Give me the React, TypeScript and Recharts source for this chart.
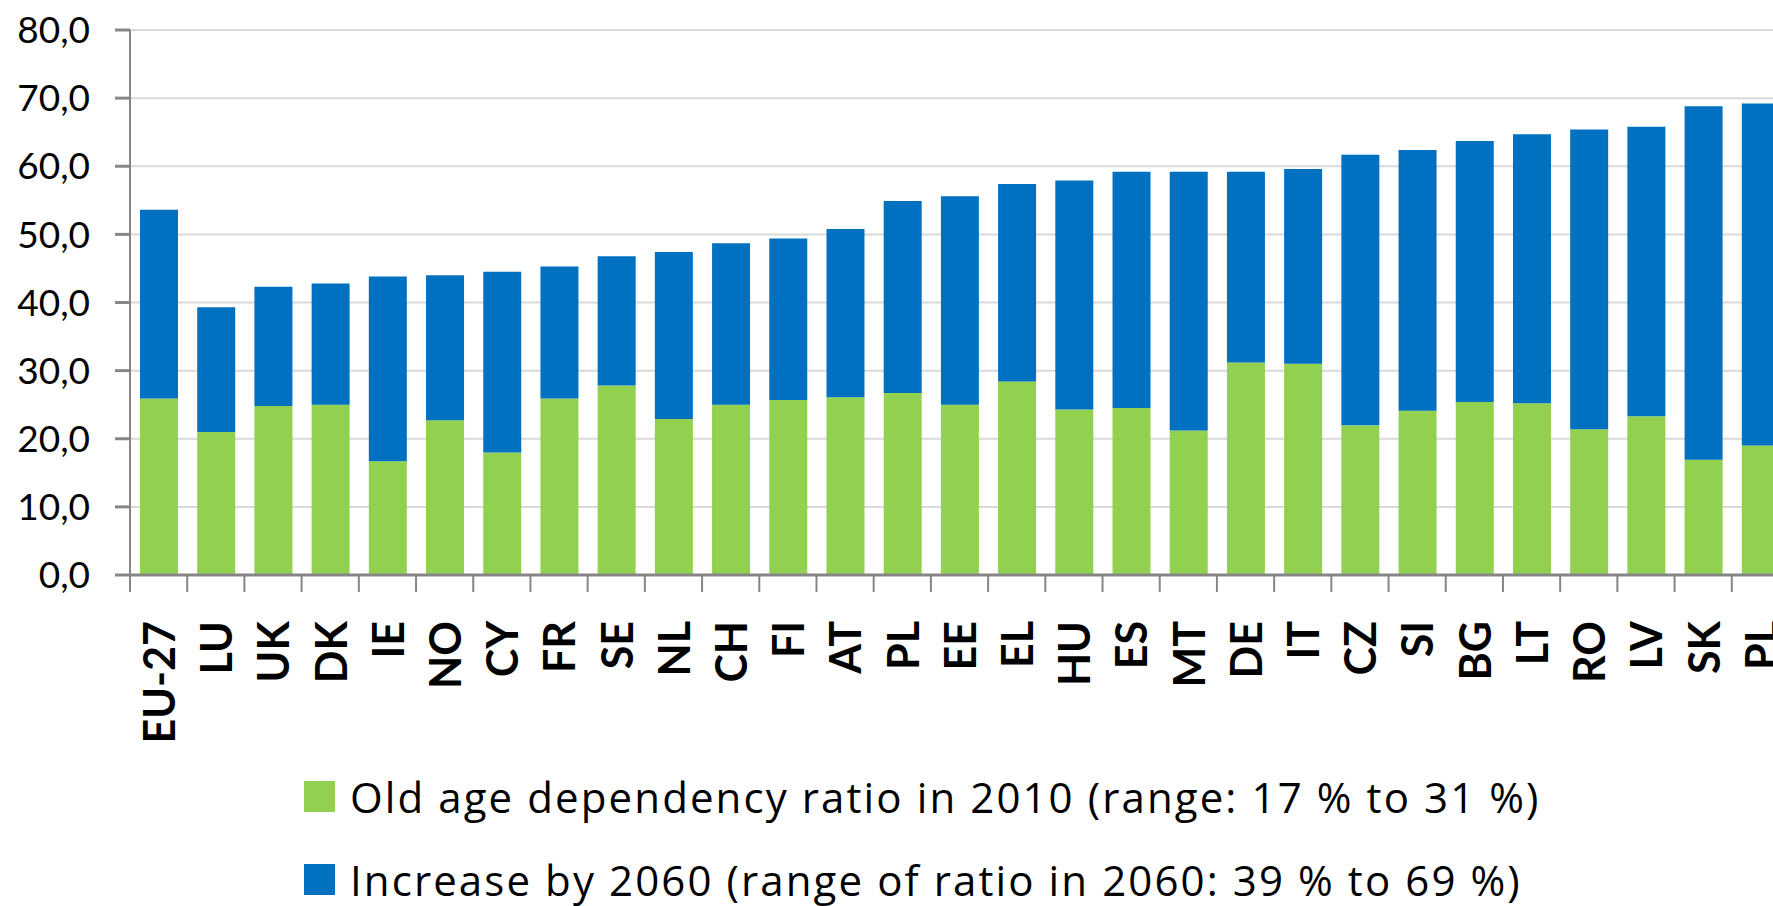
import { BarChart, Bar, XAxis, YAxis, CartesianGrid, Legend } from "recharts";

const countries = [
  "EU-27", "LU", "UK", "DK", "IE", "NO", "CY", "FR", "SE", "NL",
  "CH", "FI", "AT", "PL", "EE", "EL", "HU", "ES", "MT", "DE",
  "IT", "CZ", "SI", "BG", "LT", "RO", "LV", "SK", "PL",
];

const ratio2010 = [
  25.9, 21.0, 24.8, 25.0, 16.7, 22.7, 18.0, 25.9, 27.8, 22.9,
  25.0, 25.7, 26.1, 26.7, 25.0, 28.4, 24.3, 24.5, 21.2, 31.2,
  31.0, 22.0, 24.1, 25.4, 25.2, 21.4, 23.3, 16.9, 19.0,
];

const increase2060 = [
  27.7, 18.3, 17.5, 17.8, 27.1, 21.3, 26.5, 19.4, 19.0, 24.5,
  23.7, 23.7, 24.7, 28.2, 30.6, 29.0, 33.6, 34.7, 38.0, 28.0,
  28.6, 39.7, 38.3, 38.3, 39.5, 44.0, 42.5, 51.9, 50.2,
];

const yTicks = [0, 10, 20, 30, 40, 50, 60, 70, 80];

const seriesKeys = ["ratio2010", "increase2060"];
const seriesNames = {
  ratio2010: "Old age dependency ratio in 2010 (range: 17 % to 31 %)",
  increase2060: "Increase by 2060 (range of ratio in 2060: 39 % to 69 %)",
};

const GREEN = "#92d050";
const BLUE = "#0070c0";
const AXIS = "#868686";
const FONT = "Lato, 'Open Sans', sans-serif";

const CHART_W = 1800;
const CHART_H = 906;
const MARGIN = { top: 30, right: 11, bottom: 131, left: 0 };
const Y_WIDTH = 130;
const BAND = (CHART_W - MARGIN.left - MARGIN.right - Y_WIDTH) / countries.length;

const data = countries.map((c, i) => ({
  country: c,
  ratio2010: ratio2010[i],
  increase2060: increase2060[i],
}));

function CountryTick(props: any) {
  const { x, y, payload } = props;
  return (
    <g transform={`translate(${x},${y})`}>
      <line x1={-BAND / 2} x2={-BAND / 2} y1={0} y2={17} stroke={AXIS} strokeWidth={2} />
      <text
        transform="rotate(-90)"
        x={-46}
        y={0}
        dy="0.38em"
        textAnchor="end"
        fill="#000"
        fontFamily={FONT}
        fontWeight="bold"
        fontSize={43}
      >
        {payload.value}
      </text>
    </g>
  );
}

function LegendBox(props: any) {
  const items = [...props.payload].sort(
    (a: any, b: any) => seriesKeys.indexOf(a.dataKey) - seriesKeys.indexOf(b.dataKey)
  );
  return (
    <div
      style={{
        fontFamily: "'Open Sans', Lato, sans-serif",
        fontSize: 42,
        letterSpacing: 2.1,
        color: "#000",
      }}
    >
      {items.map((p: any) => (
        <div key={p.dataKey} style={{ display: "flex", alignItems: "center", height: 83 }}>
          <span style={{ width: 31, height: 31, background: p.color, marginRight: 15, display: "inline-block" }} />
          <span style={{ whiteSpace: "nowrap" }}>{p.value}</span>
        </div>
      ))}
    </div>
  );
}

export default function App() {
  return (
    <div
      style={{
        position: "absolute",
        left: 0,
        top: 0,
        width: 1773,
        height: 906,
        overflow: "hidden",
        background: "#fff",
      }}
    >
      <BarChart width={CHART_W} height={CHART_H} data={data} margin={MARGIN} barSize={38}>
        <CartesianGrid vertical={false} stroke="#d9d9d9" strokeWidth={2} />
        <XAxis
          dataKey="country"
          interval={0}
          height={200}
          tickSize={0}
          tickMargin={0}
          tickLine={false}
          axisLine={{ stroke: AXIS, strokeWidth: 3 }}
          tick={<CountryTick />}
        />
        <YAxis
          width={Y_WIDTH}
          domain={[0, 80]}
          ticks={yTicks}
          interval={0}
          tickSize={15}
          tickMargin={25}
          axisLine={{ stroke: AXIS, strokeWidth: 2 }}
          tickLine={{ stroke: AXIS, strokeWidth: 3 }}
          tickFormatter={(v: number) => v.toFixed(1).replace(".", ",")}
          tick={{ fill: "#000", fontFamily: FONT, fontSize: 37 }}
        />
        <Legend
          layout="vertical"
          align="center"
          verticalAlign="middle"
          wrapperStyle={{ left: 304, top: 755, width: "auto", height: "auto" }}
          content={<LegendBox />}
        />
        <Bar dataKey="ratio2010" name={seriesNames.ratio2010} stackId="a" fill={GREEN} isAnimationActive={false} />
        <Bar dataKey="increase2060" name={seriesNames.increase2060} stackId="a" fill={BLUE} isAnimationActive={false} />
      </BarChart>
    </div>
  );
}
